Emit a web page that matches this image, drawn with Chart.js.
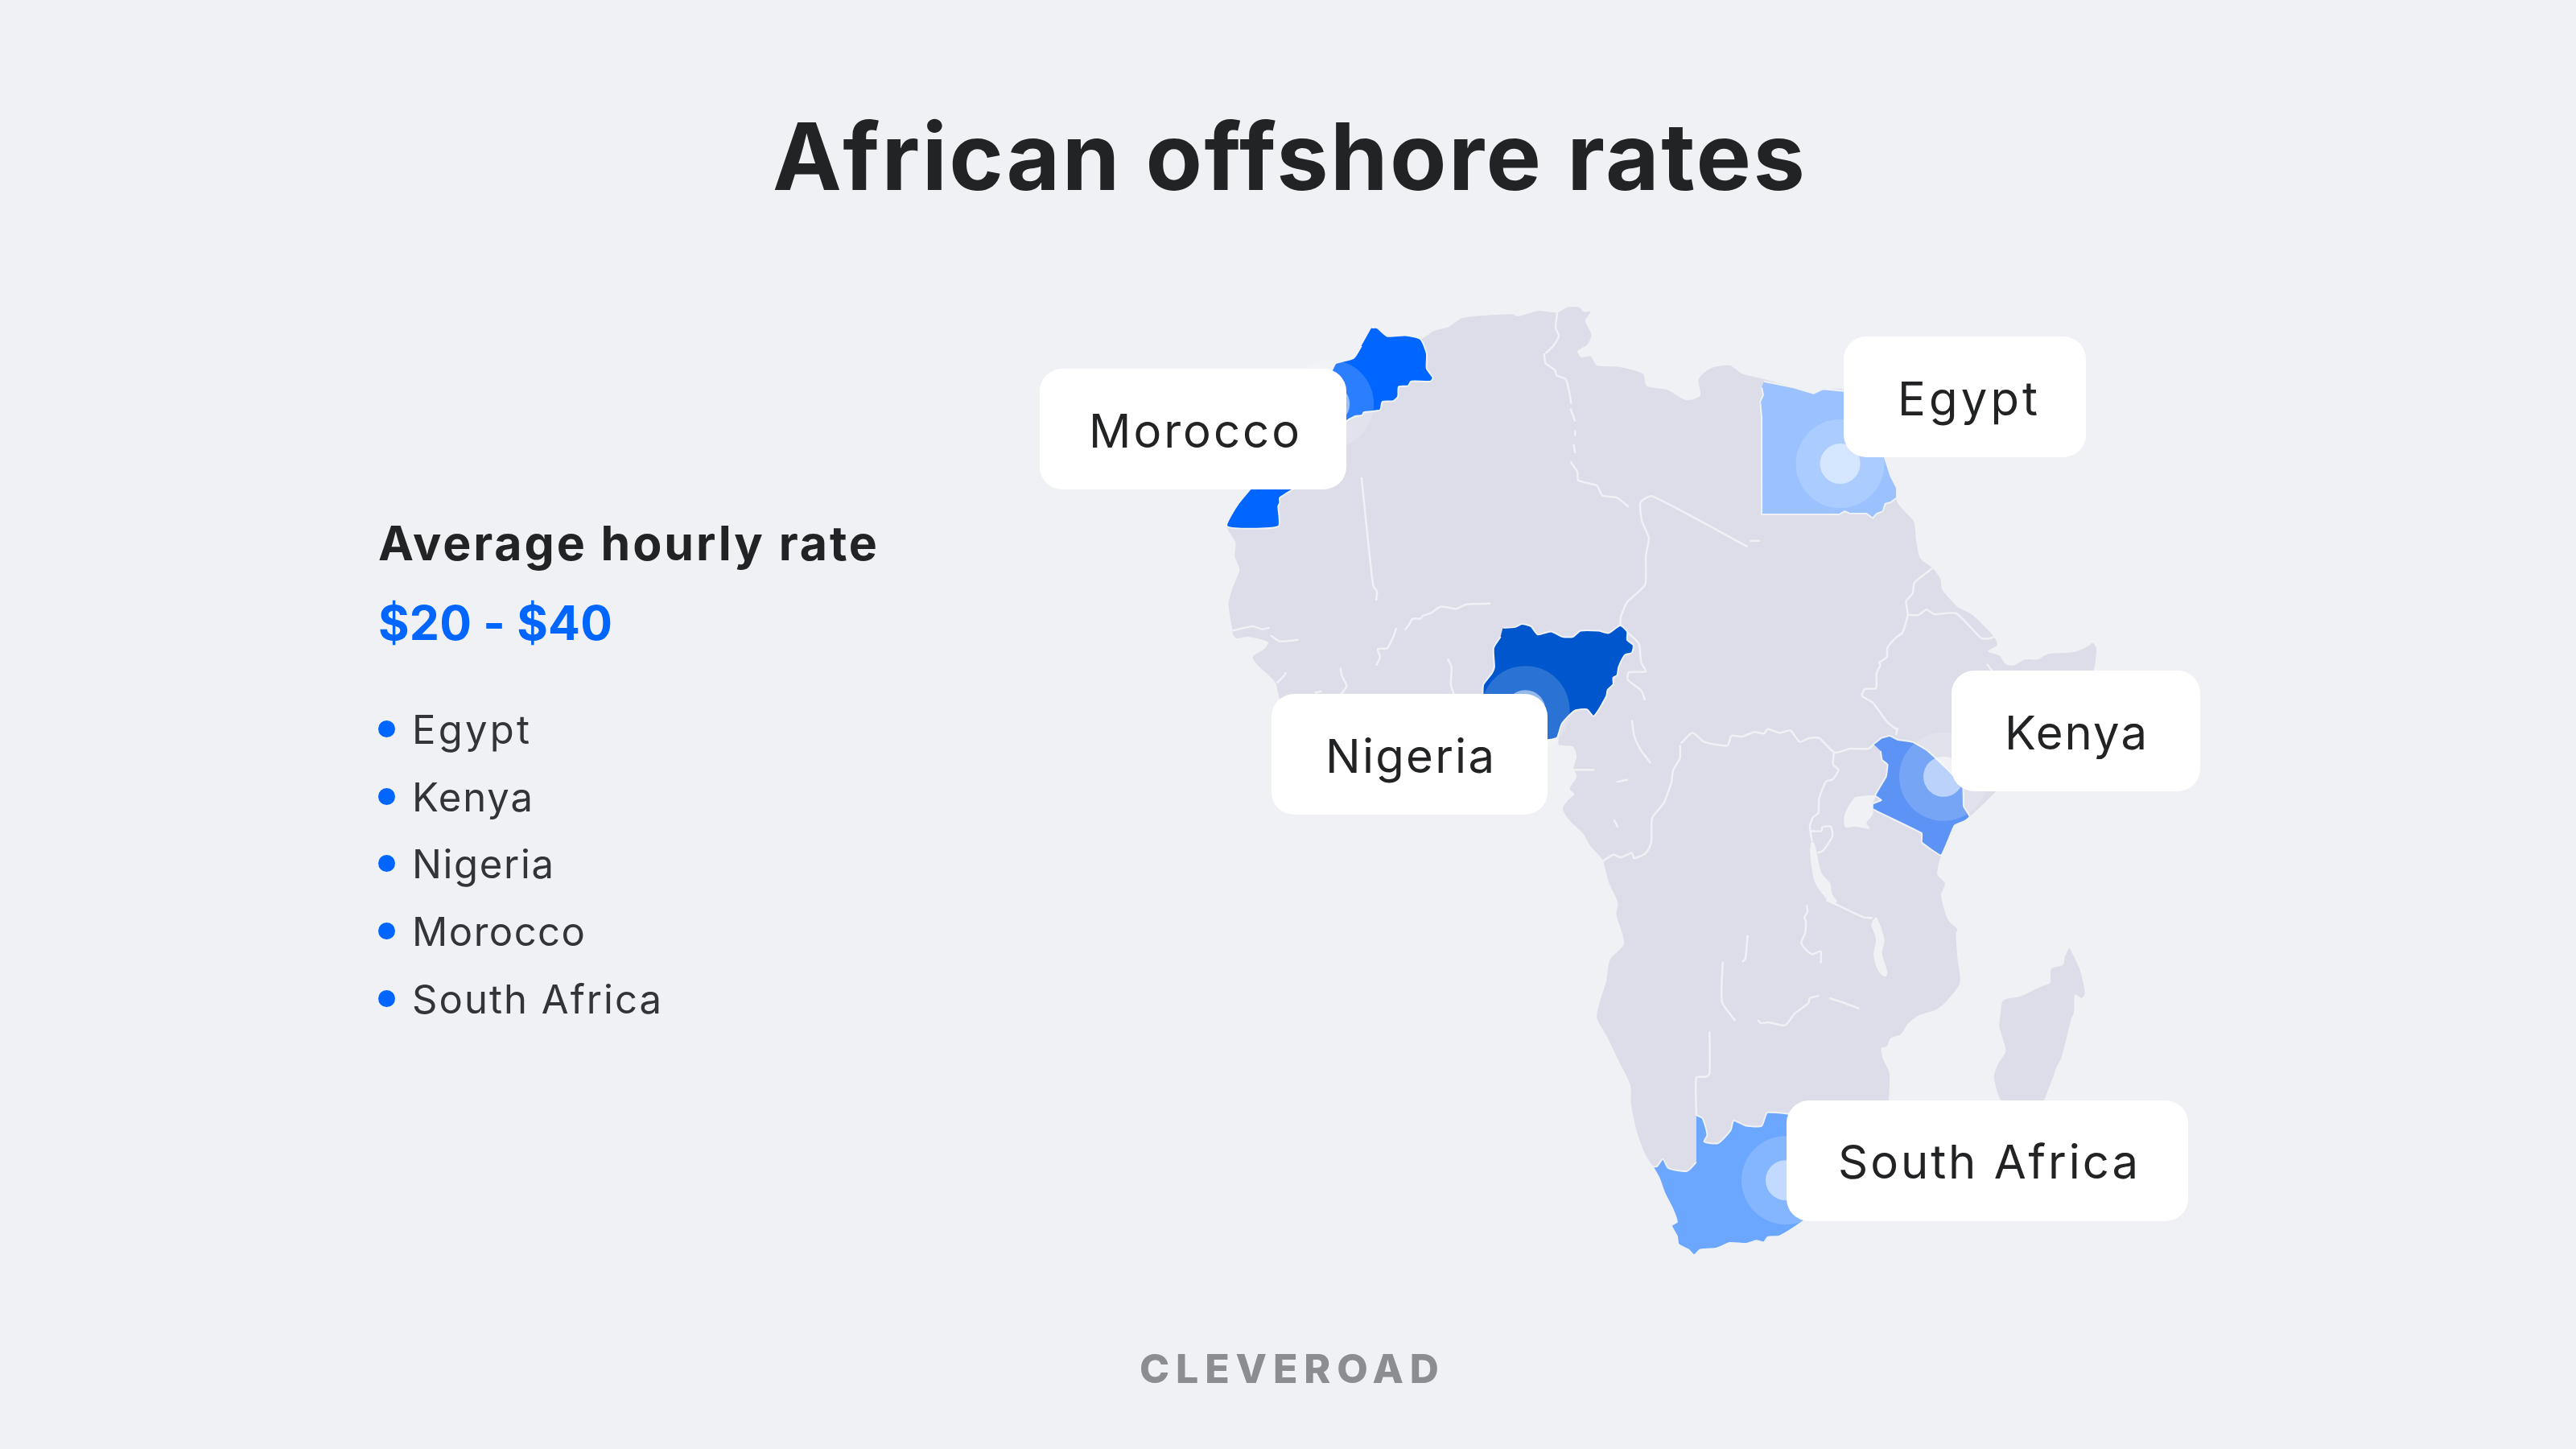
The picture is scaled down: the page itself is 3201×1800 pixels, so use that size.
<!DOCTYPE html>
<html>
<head>
<meta charset="utf-8">
<title>African offshore rates</title>
<script src="https://cdn.jsdelivr.net/npm/chart.js@4"></script>
<style>
html,body{margin:0;padding:0;background:#eff1f5;}
#page{position:relative;width:3201px;height:1800px;overflow:hidden;font-family:Inter,sans-serif;color:#222324;}
#mapChart{position:absolute;left:0;top:0;}
.txt{position:absolute;line-height:1;white-space:nowrap;}
.title{font-weight:700;font-size:115px;left:960px;top:137px;}
.head{font-weight:700;font-size:59px;left:470px;top:645px;}
.rate{font-weight:700;font-size:59px;left:470px;top:744px;color:#0066ff;}
.item{font-weight:400;font-size:49px;left:512px;color:#333437;}
.dot{position:absolute;left:470px;width:21px;height:21px;border-radius:50%;background:#0066ff;}
.box{position:absolute;height:150px;background:#fff;border-radius:28px;}
.lab{font-weight:400;font-size:58px;color:#222324;}
.foot{font-weight:800;font-size:50px;left:1416px;top:1675px;color:#8c8d90;}
</style>
</head>
<body>
<div id="page">
  <canvas id="mapChart" width="3201" height="1800"></canvas>
  <div class="txt title" data-w="1283">African offshore rates</div>
  <div class="txt head" data-w="620">Average hourly rate</div>
  <div class="txt rate" data-w="291">$20 - $40</div>
  <div id="list"></div>
  <div id="labels"></div>
  <div class="txt foot" data-w="372">CLEVEROAD</div>
</div>
<script>
const listItems = ['Egypt', 'Kenya', 'Nigeria', 'Morocco', 'South Africa'];
const listWidths = [146, 150, 176, 215, 310];
const calloutNames = ['Morocco', 'Egypt', 'Nigeria', 'Kenya', 'South Africa'];

// all outlines are map coordinates
const land = [[1708,375],[1715,375],[1728,386],[1751,385],[1771,390],[1789,379],[1807,374],[1825,362],[1889,357],[1896,360],[1922,353],[1947,355],[1960,348],[1975,348],[1981,354],[1990,354],[1983,366],[1991,384],[1986,397],[1973,406],[1978,414],[1990,413],[1998,425],[2027,427],[2057,436],[2062,452],[2088,457],[2113,471],[2131,465],[2129,443],[2144,429],[2169,425],[2185,436],[2213,443],[2251,454],[2277,462],[2289,456],[2330,460],[2360,520],[2376,571],[2384,587],[2384,605],[2394,618],[2406,632],[2409,657],[2414,680],[2430,693],[2440,707],[2442,721],[2455,737],[2463,745],[2481,755],[2509,784],[2513,795],[2501,803],[2516,809],[2524,820],[2534,822],[2549,814],[2565,814],[2578,807],[2613,804],[2631,796],[2636,792],[2641,800],[2636,832],[2600,900],[2517,983],[2479,1021],[2467,1030],[2458,1035],[2441,1073],[2436,1098],[2446,1110],[2441,1125],[2444,1141],[2450,1159],[2462,1171],[2460,1176],[2462,1209],[2465,1242],[2447,1267],[2435,1277],[2412,1285],[2399,1295],[2389,1310],[2376,1315],[2371,1326],[2364,1328],[2366,1342],[2373,1357],[2375,1367],[2370,1420],[2340,1470],[2297,1517],[2266,1555],[2233,1577],[2218,1578],[2213,1585],[2203,1583],[2190,1587],[2169,1586],[2152,1593],[2131,1595],[2123,1602],[2116,1595],[2103,1588],[2101,1577],[2094,1563],[2101,1558],[2095,1540],[2085,1520],[2078,1500],[2070,1485],[2060,1468],[2049,1437],[2042,1402],[2041,1377],[2027,1347],[2011,1313],[1998,1288],[2003,1263],[2010,1240],[2015,1211],[2033,1190],[2023,1151],[2025,1136],[2013,1108],[2005,1079],[1990,1061],[1980,1044],[1962,1026],[1954,1011],[1962,999],[1969,992],[1963,985],[1972,969],[1968,958],[1972,942],[1967,929],[1949,927],[1948,917],[1923,920],[1850,925],[1780,915],[1700,925],[1650,920],[1600,890],[1589,863],[1584,844],[1565,825],[1555,811],[1570,800],[1575,791],[1549,784],[1534,786],[1529,779],[1529,775],[1524,741],[1529,720],[1538,695],[1532,677],[1533,659],[1522,638],[1537,607],[1600,530],[1640,456],[1646,441],[1657,431],[1662,422],[1685,415],[1695,399]];
const madagascar = [[2606,1195],[2619,1223],[2626,1255],[2622,1262],[2613,1257],[2612,1280],[2608,1291],[2596,1340],[2588,1357],[2585,1367],[2560,1420],[2520,1400],[2509,1367],[2514,1350],[2524,1332],[2516,1300],[2517,1287],[2521,1265],[2542,1260],[2567,1248],[2581,1242],[2582,1232],[2583,1223],[2598,1218],[2600,1207]];
const lakeVictoria = [[2330,996],[2345,994],[2356,995],[2353,1005],[2353,1019],[2345,1030],[2349,1038],[2330,1035],[2318,1036],[2316,1023],[2321,1009]];
const lakeTanganyika = [[2274,1055],[2278,1057],[2287,1096],[2298,1110],[2301,1125],[2307,1134],[2301,1137],[2293,1130],[2280,1112],[2275,1094],[2272,1066]];
const lakeMalawi = [[2353,1159],[2358,1155],[2368,1185],[2365,1203],[2372,1228],[2369,1234],[2360,1226],[2354,1205],[2357,1184],[2351,1166]];

const morocco = [[1708,375],[1715,375],[1728,386],[1751,385],[1771,390],[1779,409],[1779,429],[1787,441],[1784,446],[1759,446],[1755,452],[1743,453],[1742,466],[1736,472],[1722,473],[1719,484],[1698,487],[1696,491],[1687,492],[1675,500],[1650,560],[1590,600],[1590,607],[1588,611],[1588,638],[1522,638],[1537,607],[1600,530],[1640,456],[1646,441],[1657,431],[1662,422],[1685,415],[1695,399]];
const egypt = [[2213,446],[2251,454],[2277,462],[2289,456],[2330,460],[2360,520],[2376,571],[2384,587],[2384,600],[2376,606],[2369,608],[2366,618],[2358,621],[2353,627],[2345,621],[2324,621],[2317,618],[2310,622],[2210,622],[2210,493],[2208,473],[2212,464],[2210,454]];
const nigeria = [[1877,772],[1893,771],[1901,767],[1913,770],[1922,781],[1939,777],[1954,784],[1967,784],[1977,776],[2000,776],[2013,779],[2028,769],[2037,777],[2037,788],[2045,795],[2043,805],[2034,808],[2026,824],[2024,835],[2019,838],[2019,847],[2012,854],[2010,863],[1994,889],[1985,880],[1969,882],[1953,899],[1947,917],[1939,920],[1923,920],[1851,900],[1851,862],[1852,847],[1863,832],[1866,824],[1865,799],[1874,784]];
const kenya = [[2354,926],[2364,918],[2375,915],[2385,920],[2404,923],[2424,935],[2450,960],[2469,983],[2470,1008],[2478,1022],[2471,1028],[2458,1034],[2441,1073],[2416,1056],[2416,1044],[2353,1012],[2353,1005],[2364,1000],[2356,994],[2370,969],[2372,953],[2365,947],[2363,935]];
const southAfrica = [[2126,1417],[2134,1421],[2140,1443],[2136,1452],[2154,1454],[2170,1437],[2174,1424],[2190,1431],[2210,1431],[2218,1413],[2300,1430],[2297,1517],[2266,1555],[2233,1577],[2218,1578],[2213,1585],[2203,1583],[2190,1587],[2169,1586],[2152,1593],[2131,1595],[2123,1602],[2116,1595],[2103,1588],[2101,1577],[2094,1563],[2101,1558],[2095,1540],[2085,1520],[2078,1500],[2070,1485],[2075,1485],[2083,1475],[2090,1487],[2114,1491],[2126,1479]];

const borders = [
  [[1947,354],[1945,375],[1949,386],[1942,399],[1932,409]],
  [[1930,409],[1932,422],[1944,431],[1946,438],[1958,443],[1963,463],[1965,476]],
  [[1964,482],[1970,499]],
  [[1970,511],[1970,518]],
  [[1968,529],[1970,541]],
  [[1964,552],[1973,566],[1974,577],[1998,584],[2005,597],[2024,600],[2039,612]],
  [[2192,665],[2069,598],[2054,606],[2056,631],[2062,645],[2065,654],[2061,677],[2060,715],[2037,738],[2029,757],[2028,768]],
  [[1695,573],[1710,716],[1715,724],[1714,736]],
  [[1861,740],[1830,741],[1817,747],[1797,744],[1784,753],[1774,756],[1771,760],[1761,760],[1756,768],[1751,775]],
  [[1740,772],[1736,784],[1728,799],[1716,800],[1719,811],[1714,822]],
  [[1529,776],[1555,770],[1567,774],[1577,772]],
  [[1578,782],[1590,790],[1614,788]],
  [[1598,831],[1595,836],[1586,845]],
  [[1806,813],[1811,824],[1810,847],[1815,863]],
  [[1668,825],[1670,836],[1676,849],[1668,861]],
  [[1635,858],[1644,856]],
  [[2037,778],[2052,793],[2055,818],[2061,830],[2039,831],[2038,841],[2055,855],[2060,868]],
  [[2043,894],[2046,915],[2054,933],[2067,951]],
  [[1968,960],[1995,960]],
  [[2023,976],[2038,973]],
  [[2020,1026],[2025,1036]],
  [[2105,927],[2105,944],[2096,961],[2094,976],[2084,1004],[2069,1024],[2068,1056],[2061,1070],[2046,1077],[2043,1070],[2028,1076],[2020,1072],[2005,1081]],
  [[2106,925],[2121,911],[2136,923],[2166,928],[2171,915],[2185,916],[2200,910],[2213,912],[2218,906],[2233,911],[2247,908],[2259,923],[2271,918],[2284,918],[2304,937],[2324,932],[2347,932],[2356,925]],
  [[2303,937],[2302,953],[2309,960],[2301,973],[2293,975],[2284,998],[2283,1017],[2276,1023],[2272,1035],[2275,1055]],
  [[2274,1041],[2287,1041],[2288,1036],[2299,1035],[2301,1048],[2289,1067],[2282,1070]],
  [[2293,1132],[2318,1144],[2341,1155],[2353,1156]],
  [[2268,1139],[2269,1148],[2265,1155],[2267,1160],[2266,1176],[2261,1189],[2270,1201],[2276,1204],[2286,1200],[2286,1216]],
  [[2160,1214],[2159,1267],[2176,1292]],
  [[2192,1179],[2189,1210],[2185,1214]],
  [[2205,1291],[2209,1295],[2219,1294],[2240,1298],[2253,1282],[2270,1269],[2272,1262],[2284,1259]],
  [[2297,1262],[2318,1269],[2336,1276]],
  [[2143,1306],[2143,1362],[2139,1366],[2126,1367],[2126,1417]],
  [[2430,693],[2407,712],[2404,727],[2396,737],[2398,755],[2391,779],[2384,784],[2372,798],[2371,811],[2361,818],[2363,821],[2358,832],[2357,852],[2343,853],[2339,862],[2353,871],[2371,896],[2384,907]],
  [[2398,755],[2412,755],[2422,748],[2432,754],[2460,753],[2493,786],[2504,786],[2509,784]],
  [[2500,820],[2509,833]],
  [[2385,904],[2383,914]],
  [[2195,657],[2208,657]]
];

const rippleCentres = [[1654,476],[2311,555],[1906,881],[2444,969],[2241,1503]];

function toPoints(list){
  return list.map(p => ({x: p[0], y: p[1]}));
}

function shape(list, colour, tension){
  return {data: toPoints(list), showLine: true, fill: 'shape', backgroundColor: colour,
    borderColor: '#eff1f5', borderWidth: 2, pointRadius: 0, tension: tension};
}

const datasets = [];
datasets.push({...shape(land, '#dcdde8', 0.25), borderWidth: 0});
datasets.push({...shape(madagascar, '#dcdde8', 0.25), borderWidth: 0});
[lakeVictoria, lakeTanganyika, lakeMalawi].forEach(l => datasets.push({...shape(l, '#eff1f5', 0.3), borderWidth: 0}));
borders.forEach(b => {
  datasets.push({data: toPoints(b), showLine: true, fill: false, borderColor: '#eff1f5', borderWidth: 2.5, pointRadius: 0, tension: 0.2});
});
datasets.push(shape(morocco, '#0066ff', 0.2));
datasets.push(shape(egypt, '#9bc2ff', 0));
datasets.push(shape(nigeria, '#0056cd', 0.2));
datasets.push(shape(kenya, '#5c93f5', 0.1));
datasets.push(shape(southAfrica, '#6ba6ff', 0.2));
// the two rings on each country
datasets.push({data: toPoints(rippleCentres), pointRadius: 55, borderWidth: 0, pointBorderWidth: 0, pointBackgroundColor: 'rgba(255,255,255,0.17)'});
datasets.push({data: toPoints(rippleCentres), pointRadius: 25, borderWidth: 0, pointBorderWidth: 0, pointBackgroundColor: 'rgba(255,255,255,0.5)'});
datasets.forEach((d, i) => { d.order = -i; });

new Chart(document.getElementById('mapChart'), {
  type: 'scatter',
  data: {datasets: datasets},
  options: {
    responsive: false,
    animation: false,
    events: [],
    layout: {padding: 0},
    plugins: {legend: {display: false}, tooltip: {enabled: false}},
    scales: {
      x: {type: 'linear', min: 0, max: 3201, display: false},
      y: {type: 'linear', min: 0, max: 1800, reverse: true, display: false}
    }
  }
});

// left list
const listTops = [882, 966, 1049, 1133, 1217];
let listHTML = '';
listItems.forEach((name, i) => {
  listHTML += `<div class="dot" style="top:${listTops[i] + 13}px"></div>
  <div class="txt item" style="top:${listTops[i]}px" data-w="${listWidths[i]}">${name}</div>`;
});
document.getElementById('list').innerHTML = listHTML;

// callout boxes
const boxLefts = [1292, 2291, 1580, 2425, 2220];
const boxWidths = [381, 301, 343, 309, 499];
const boxTops = [458, 418, 862, 833, 1367];
const textLefts = [1353, 2358, 1647, 2491, 2284];
const textWidths = [262, 174, 210, 177, 373];
const textTops = [506, 466, 910, 881, 1414];
let boxHTML = '';
calloutNames.forEach((name, i) => {
  boxHTML += `<div class="box" style="left:${boxLefts[i]}px;top:${boxTops[i]}px;width:${boxWidths[i]}px"></div>
  <div class="txt lab" style="left:${textLefts[i]}px;top:${textTops[i]}px" data-w="${textWidths[i]}">${name}</div>`;
});
document.getElementById('labels').innerHTML = boxHTML;

// Inter runs a bit narrower than the original face, so stretch the tracking to fit
document.querySelectorAll('[data-w]').forEach(el => {
  const r = document.createRange();
  r.selectNodeContents(el);
  const w = r.getBoundingClientRect().width;
  el.style.letterSpacing = ((Number(el.dataset.w) - w) / (el.textContent.length - 1)) + 'px';
});
</script>
</body>
</html>
